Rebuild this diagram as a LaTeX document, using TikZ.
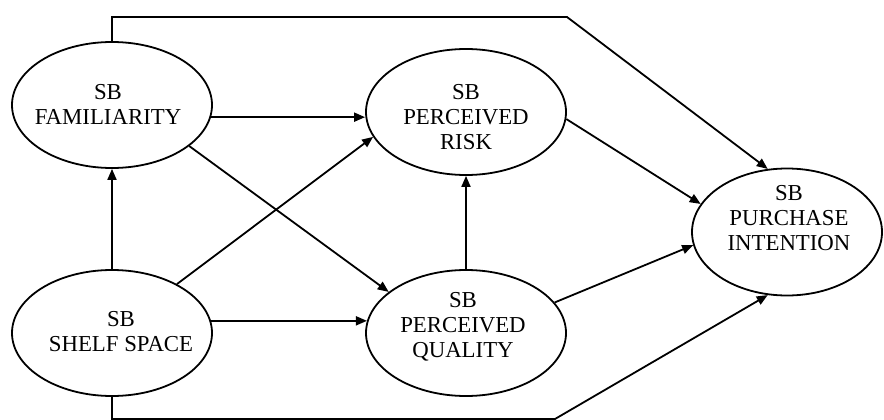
\documentclass[tikz,border=0pt]{standalone}
\usepackage{fontspec}
\setmainfont{Liberation Serif}
\usetikzlibrary{shapes.geometric,arrows.meta}
\begin{document}
\begin{tikzpicture}[x=1pt,y=-1pt,
  oval/.style={ellipse,draw,line width=1.8pt,inner sep=0pt,minimum width=200pt,minimum height=126pt},
  lbl/.style={align=center,font=\fontsize{22.8}{25}\selectfont,inner sep=0pt},
  link/.style={line width=1.8pt,-{Triangle[length=11pt,width=9pt]}},
  plain/.style={line width=1.8pt}]
\useasboundingbox (0,0) rectangle (884,420);
\fill[white] (0,0) rectangle (884,420);
% ellipses
\node[oval] (fam) at (112,105) {};
\node[oval] (shelf) at (112,333) {};
\node[oval] (risk) at (466,112) {};
\node[oval] (qual) at (466,333) {};
\node[oval,minimum width=190pt,minimum height=127pt] (purch) at (787,232) {};
% labels
\node[lbl] (famt) at (108,104) {SB\\FAMILIARITY};
\node[lbl] (shelft) at (121,332) {SB\\SHELF SPACE};
\node[lbl] (riskt) at (466,117) {SB\\PERCEIVED\\RISK};
\node[lbl] (qualt) at (463,327) {SB\\PERCEIVED\\QUALITY};
\node[lbl] (purcht) at (789,218) {SB\\PURCHASE\\INTENTION};
% corner points
\coordinate (topc) at (567,17);
\coordinate (botc) at (555,419);
% connectors
\draw[link] (shelf.north) -- (fam.south);
\draw[link] (qual.north) -- (risk.south);
\draw[link] (fam.-7) -- (fam.-7 -| risk.west);
\draw[link] (shelf.7) -- (qual.173);
\draw[link] (fam.-28) -- (qual.152);
\draw[link] (shelf.37) -- (risk.-165);
\draw[link] (risk.-4) -- (purch.162);
\draw[link] (qual.19) -- (purch.-172);
\draw[link] (fam.north) |- (topc) -- (purch.107);
\draw[link] (shelf.south) |- (botc) -- (purch.-107);
\end{tikzpicture}
\end{document}
